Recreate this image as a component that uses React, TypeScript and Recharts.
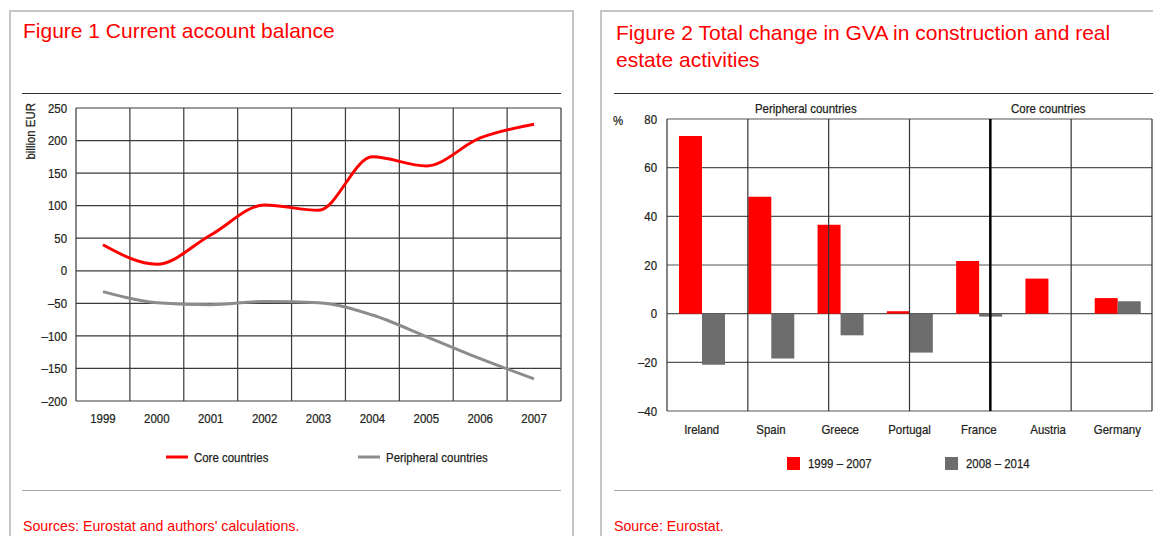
import {
  Bar,
  BarChart,
  CartesianGrid,
  Legend,
  Line,
  LineChart,
  ReferenceLine,
  XAxis,
  YAxis,
} from "recharts";

// Figure 1: current account balance, billion EUR
const years = [1999, 2000, 2001, 2002, 2003, 2004, 2005, 2006, 2007];
const coreCountries = [40, 10, 55, 101, 93, 175, 161, 204, 225];
const peripheralCountries = [-32, -49, -52, -47, -49, -68, -101, -135, -166];
const balanceTicks = [-200, -150, -100, -50, 0, 50, 100, 150, 200, 250];

// Figure 2: total change in GVA, %
const countries = ["Ireland", "Spain", "Greece", "Portugal", "France", "Austria", "Germany"];
const gva1999to2007 = [73, 48, 36.5, 1, 21.6, 14.4, 6.4];
const gva2008to2014 = [-21, -18.4, -8.9, -16, -1.2, 0.3, 5.1];
const gvaTicks = [-40, -20, 0, 20, 40, 60, 80];
const peripheralCount = 4;

const RED = "#ff0000";
const WIDE = "'Liberation Sans', Arial, sans-serif";
const INK = "#231f20";
const SQUEEZE = 0.88; // no condensed Helvetica here, so squeeze Liberation Sans
const SMALL = 13;

const balanceData = years.map((year, i) => ({
  year,
  core: coreCountries[i],
  peripheral: peripheralCountries[i],
}));
const yearBounds = [...years.map((y) => y - 0.5), years[years.length - 1] + 0.5];

const gvaData = countries.map((country, i) => ({
  country,
  early: gva1999to2007[i],
  late: gva2008to2014[i],
}));
const countryBounds = Array.from({ length: countries.length + 1 }, (_, i) => i);

const fmt = (v: any) => (typeof v === "number" && v < 0 ? `\u2013${Math.abs(v)}` : `${v}`);

function NarrowTick(props: any) {
  const { x, y, payload, textAnchor, verticalAnchor } = props;
  const dy = verticalAnchor === "start" ? "0.71em" : "0.355em";
  return (
    <g transform={`translate(${x},${y})`}>
      <text
        transform={`scale(${SQUEEZE},1)`}
        textAnchor={textAnchor}
        dy={dy}
        fill={INK}
        stroke={INK}
        strokeWidth={0.25}
        fontSize={SMALL}
        fontFamily={WIDE}
      >
        {fmt(payload.value)}
      </text>
    </g>
  );
}

function Narrow({ children, origin = "left" }: any) {
  return (
    <span
      style={{
        display: "inline-block",
        transform: `scaleX(${SQUEEZE})`,
        transformOrigin: origin,
        whiteSpace: "nowrap",
        WebkitTextStroke: `0.25px ${INK}`,
      }}
    >
      {children}
    </span>
  );
}

const lineLegendPos = [166, 358];
function LineLegend({ payload }: any) {
  return (
    <div style={{ position: "relative", height: 20, fontFamily: WIDE, fontSize: SMALL, color: INK }}>
      {(payload ?? []).map((entry: any, i: number) => (
        <div key={entry.value} style={{ position: "absolute", left: lineLegendPos[i], top: 0, height: 20, display: "flex", alignItems: "center" }}>
          <svg width={22} height={4}>
            <line x1={0} y1={2} x2={22} y2={2} stroke={entry.color} strokeWidth={3} />
          </svg>
          <span style={{ marginLeft: 6 }}>
            <Narrow>{entry.value}</Narrow>
          </span>
        </div>
      ))}
    </div>
  );
}

const barLegendPos = [207, 365];
function BarLegend({ payload }: any) {
  return (
    <div style={{ position: "relative", height: 20, fontFamily: WIDE, fontSize: SMALL, color: INK }}>
      {(payload ?? []).map((entry: any, i: number) => (
        <div key={entry.value} style={{ position: "absolute", left: barLegendPos[i], top: 0, height: 20, display: "flex", alignItems: "center" }}>
          <div style={{ width: 13, height: 13, background: entry.color }} />
          <span style={{ marginLeft: 8 }}>
            <Narrow>{entry.value}</Narrow>
          </span>
        </div>
      ))}
    </div>
  );
}

const abs = (left: number, top: number, extra: any = {}) => ({ position: "absolute" as const, left, top, ...extra });

export default function App() {
  return (
    <div style={{ position: "absolute", left: 0, top: 0, width: 1153, height: 536, overflow: "hidden", background: "#fff" }}>
      {/* panel frames */}
      <div style={abs(9, 10, { width: 561, height: 560, border: "2px solid #c6c6c6" })} />
      <div style={abs(600, 10, { width: 600, height: 560, border: "2px solid #c6c6c6" })} />

      {/* Figure 1 */}
      <div style={abs(23, 19, { fontFamily: WIDE, fontSize: 21, color: RED, whiteSpace: "nowrap" })}>
        Figure 1 Current account balance
      </div>
      <div style={abs(22, 93, { width: 539, height: 0, borderTop: "1.5px solid #333" })} />
      <svg style={abs(0, 95)} width={60} height={80}>
        <text
          transform={`translate(35,8) rotate(-90) scale(${SQUEEZE},1)`}
          textAnchor="end"
          fill={INK}
          stroke={INK}
          strokeWidth={0.25}
          fontSize={SMALL}
          fontFamily={WIDE}
        >
          billion EUR
        </text>
      </svg>
      <div style={abs(0, 0)}>
        <LineChart width={580} height={480} data={balanceData} margin={{ top: 108, right: 19, bottom: 49, left: 16 }}>
          <CartesianGrid vertical={false} stroke="#3a3a3a" strokeWidth={1.2} />
          {yearBounds.map((b) => (
            <ReferenceLine key={b} x={b} stroke="#3a3a3a" strokeWidth={1.2} />
          ))}
          <XAxis
            dataKey="year"
            type="number"
            domain={[1998.5, 2007.5]}
            ticks={years}
            interval={0}
            tickLine={false}
            axisLine={false}
            tickSize={0}
            tickMargin={13}
            height={30}
            tick={<NarrowTick />}
          />
          <YAxis
            domain={[-200, 250]}
            ticks={balanceTicks}
            interval={0}
            width={60}
            tickLine={false}
            axisLine={false}
            tickSize={0}
            tickMargin={9}
            tick={<NarrowTick />}
          />
          <Legend
            layout="horizontal"
            verticalAlign="middle"
            align="center"
            wrapperStyle={{ top: 447, left: 0, width: 580, height: 20 }}
            content={<LineLegend />}
          />
          <Line
            dataKey="core"
            name="Core countries"
            type="monotone"
            stroke={RED}
            strokeWidth={3}
            dot={false}
            isAnimationActive={false}
          />
          <Line
            dataKey="peripheral"
            name="Peripheral countries"
            type="monotone"
            stroke="#8c8c8c"
            strokeWidth={3}
            dot={false}
            isAnimationActive={false}
          />
        </LineChart>
      </div>
      <div style={abs(22, 490, { width: 539, height: 0, borderTop: "1px solid #aaa" })} />
      <div style={abs(23, 518, { fontFamily: WIDE, fontSize: 14.2, color: RED, whiteSpace: "nowrap" })}>
        Sources: Eurostat and authors' calculations.
      </div>

      {/* Figure 2 */}
      <div style={abs(616, 19, { fontFamily: WIDE, fontSize: 21, color: RED, lineHeight: "27px", width: 520 })}>
        Figure 2 Total change in GVA in construction and real estate activities
      </div>
      <div style={abs(614, 93, { width: 560, height: 0, borderTop: "1.5px solid #333" })} />
      <div style={abs(613, 113, { fontFamily: WIDE, fontSize: SMALL, color: INK })}>
        <Narrow>%</Narrow>
      </div>
      <div style={abs(667, 101, { width: 277, textAlign: "center", fontFamily: WIDE, fontSize: SMALL, color: INK })}>
        <Narrow origin="center">Peripheral countries</Narrow>
      </div>
      <div style={abs(944, 101, { width: 208, textAlign: "center", fontFamily: WIDE, fontSize: SMALL, color: INK })}>
        <Narrow origin="center">Core countries</Narrow>
      </div>
      <div style={abs(580, 0)}>
        <BarChart
          width={573}
          height={480}
          data={gvaData}
          barGap={0}
          barSize={23}
          margin={{ top: 119, right: 1, bottom: 39, left: 27 }}
        >
          <CartesianGrid vertical={false} stroke="#555" strokeWidth={1.2} />
          {countryBounds.map((b) => (
            <ReferenceLine
              key={b}
              xAxisId="bands"
              x={b}
              stroke={b === peripheralCount ? "#000" : "#333"}
              strokeWidth={b === peripheralCount ? 2.5 : 1.2}
            />
          ))}
          <XAxis
            dataKey="country"
            interval={0}
            tickLine={false}
            axisLine={false}
            tickSize={0}
            tickMargin={14}
            height={30}
            tick={<NarrowTick />}
          />
          <XAxis xAxisId="bands" type="number" domain={[0, countries.length]} hide />
          <YAxis
            domain={[-40, 80]}
            ticks={gvaTicks}
            interval={0}
            width={60}
            tickLine={false}
            axisLine={false}
            tickSize={0}
            tickMargin={10}
            tick={<NarrowTick />}
          />
          <Legend
            layout="horizontal"
            verticalAlign="middle"
            align="center"
            wrapperStyle={{ top: 453, left: 0, width: 573, height: 20 }}
            content={<BarLegend />}
          />
          <Bar dataKey="early" name={"1999 \u2013 2007"} fill={RED} isAnimationActive={false} />
          <Bar dataKey="late" name={"2008 \u2013 2014"} fill="#6d6d6d" isAnimationActive={false} />
        </BarChart>
      </div>
      <div style={abs(614, 490, { width: 560, height: 0, borderTop: "1px solid #aaa" })} />
      <div style={abs(614, 518, { fontFamily: WIDE, fontSize: 14.2, color: RED, whiteSpace: "nowrap" })}>
        Source: Eurostat.
      </div>
    </div>
  );
}
